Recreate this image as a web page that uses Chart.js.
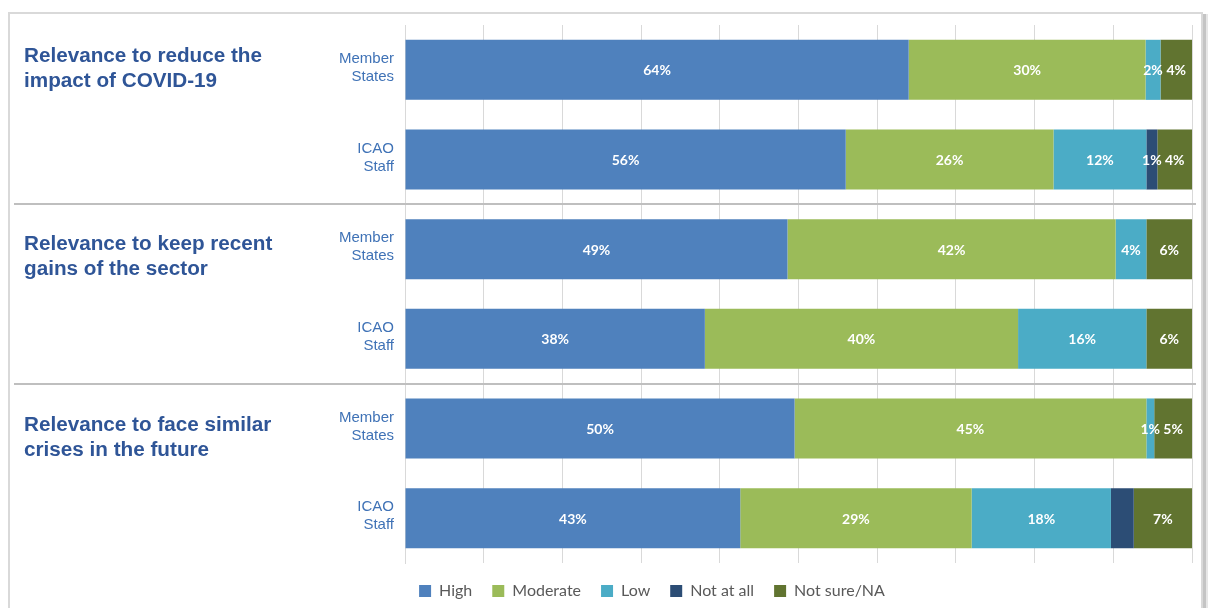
<!DOCTYPE html>
<html lang="en">
<head>
    <meta charset="UTF-8">
    <title>Relevance survey</title>
    <script src="https://cdn.jsdelivr.net/npm/chart.js"></script>
    <style>
        html, body { margin: 0; padding: 0; background: #ffffff; }
        #wrap { width: 1208px; height: 608px; position: relative; }
    </style>
</head>
<body>
    <div id="wrap">
        <canvas id="relevanceChart" width="1208" height="608"></canvas>
    </div>

    <script>
        // respondent rows, two per question
        const rowLabels = [
            ['Member', 'States'], ['ICAO', 'Staff'],
            ['Member', 'States'], ['ICAO', 'Staff'],
            ['Member', 'States'], ['ICAO', 'Staff']
        ];

        // question titles, one per pair of rows
        const groupTitles = [
            ['Relevance to reduce the', 'impact of COVID-19'],
            ['Relevance to keep recent', 'gains of the sector'],
            ['Relevance to face similar', 'crises in the future']
        ];

        const seriesNames = ['High', 'Moderate', 'Low', 'Not at all', 'Not sure/NA'];

        // shares in percent
        const high      = [64.0, 56.0, 48.6, 38.1, 49.5, 42.6];
        const moderate  = [30.1, 26.4, 41.7, 39.8, 44.7, 29.4];
        const low       = [1.9, 11.8, 3.9, 16.3, 1.0, 17.7];
        const notAtAll  = [0, 1.4, 0, 0, 0, 2.9];
        const notSure   = [4.0, 4.4, 5.8, 5.8, 4.8, 7.4];

        const seriesColors = ['#4f81bd', '#9bbb59', '#4bacc6', '#2c4d75', '#617430'];

        // segments that carry no value label
        const hiddenLabels = [[3, 5]];

        const titleOffsets = [-14, -5, -3];

        const allSeries = [high, moderate, low, notAtAll, notSure];

        const datasets = allSeries.map((values, i) => ({
            label: seriesNames[i],
            data: values,
            backgroundColor: seriesColors[i],
            borderWidth: 0,
            barPercentage: 0.67,
            categoryPercentage: 1.0
        }));

        // outer frame with a soft edge on the right
        const framePlugin = {
            id: 'frame',
            beforeDraw(chart) {
                const ctx = chart.ctx;
                ctx.save();
                ctx.strokeStyle = '#d9d9d9';
                ctx.lineWidth = 2;
                ctx.strokeRect(9, 13, 1193, 640);
                ctx.fillStyle = '#c4c4c4';
                ctx.fillRect(1203, 14, 3, 600);
                ctx.fillStyle = '#e6e6e6';
                ctx.fillRect(1206, 14, 2, 600);
                ctx.restore();
            },
            // legend sits a little right of the canvas centre
            afterLayout(chart) {
                const lg = chart.legend;
                if (lg) {
                    lg.left += 56;
                    lg.right += 56;
                }
            }
        };

        // separators between questions and the question titles
        const groupPlugin = {
            id: 'groups',
            afterDatasetsDraw(chart) {
                const ctx = chart.ctx;
                const y = chart.scales.y;
                ctx.save();
                ctx.strokeStyle = '#bfbfbf';
                ctx.lineWidth = 2;
                [2, 4].forEach(i => {
                    const yy = Math.round((y.getPixelForValue(i - 1) + y.getPixelForValue(i)) / 2);
                    ctx.beginPath();
                    ctx.moveTo(14, yy);
                    ctx.lineTo(1196, yy);
                    ctx.stroke();
                });

                ctx.fillStyle = '#2f5597';
                ctx.font = 'bold 20.7px "Liberation Sans", Arial, sans-serif';
                ctx.textAlign = 'left';
                ctx.textBaseline = 'middle';
                groupTitles.forEach((lines, g) => {
                    const top = y.getPixelForValue(g * 2) + titleOffsets[g];
                    lines.forEach((line, k) => ctx.fillText(line, 24, top + k * 25));
                });
                ctx.restore();
            }
        };

        // percentage labels centred in each segment
        const valueLabelPlugin = {
            id: 'valueLabels',
            afterDatasetsDraw(chart) {
                const ctx = chart.ctx;
                ctx.save();
                ctx.fillStyle = '#ffffff';
                ctx.font = 'bold 14px Lato, "Open Sans", sans-serif';
                ctx.textAlign = 'center';
                ctx.textBaseline = 'middle';
                chart.data.datasets.forEach((ds, di) => {
                    const meta = chart.getDatasetMeta(di);
                    meta.data.forEach((bar, i) => {
                        const v = ds.data[i];
                        if (!v) return;
                        if (hiddenLabels.some(h => h[0] === di && h[1] === i)) return;
                        const cx = (bar.x + bar.base) / 2;
                        ctx.fillText(Math.round(v) + '%', cx, bar.y + 1);
                    });
                });
                ctx.restore();
            }
        };

        const ctx = document.getElementById('relevanceChart').getContext('2d');
        new Chart(ctx, {
            type: 'bar',
            data: {
                labels: rowLabels,
                datasets: datasets
            },
            options: {
                indexAxis: 'y',
                responsive: false,
                animation: false,
                layout: {
                    padding: { top: 25, right: 16, left: 0, bottom: 0 }
                },
                scales: {
                    x: {
                        stacked: true,
                        min: 0,
                        max: 100,
                        ticks: { display: false, stepSize: 10 },
                        grid: { color: '#d9d9d9', lineWidth: 1, drawTicks: false },
                        border: { display: false }
                    },
                    y: {
                        stacked: true,
                        afterFit: scale => { scale.width = 405; },
                        ticks: {
                            color: '#3f72b6',
                            padding: 3,
                            labelOffset: -2,
                            font: { family: '"Liberation Sans", Arial, sans-serif', size: 15 }
                        },
                        grid: { display: false },
                        border: { display: true, color: '#d9d9d9' }
                    }
                },
                plugins: {
                    legend: {
                        position: 'bottom',
                        maxHeight: 45,
                        labels: {
                            boxWidth: 12,
                            boxHeight: 12,
                            padding: 20,
                            color: '#595959',
                            font: { family: 'Lato, "Open Sans", sans-serif', size: 16 }
                        }
                    },
                    tooltip: { enabled: false }
                }
            },
            plugins: [framePlugin, groupPlugin, valueLabelPlugin]
        });
    </script>
</body>
</html>
